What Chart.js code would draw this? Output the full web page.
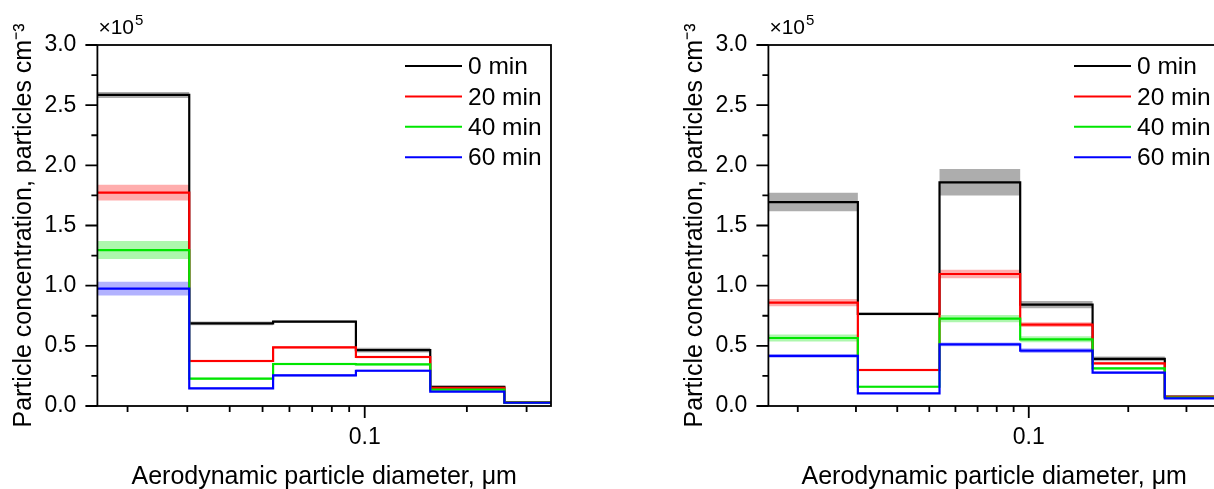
<!DOCTYPE html>
<html>
<head>
<meta charset="utf-8">
<script src="https://cdn.jsdelivr.net/npm/chart.js@4.4.1/dist/chart.umd.min.js"></script>
<style>
  html, body { margin: 0; padding: 0; background: #fff; overflow: hidden; }
  body { width: 1214px; height: 489px; position: relative; }
  canvas { position: absolute; top: 0; }
  #chartA { left: 0; }
  #chartB { left: 671px; }
</style>
</head>
<body>
<canvas id="chartA" width="607" height="489"></canvas>
<canvas id="chartB" width="605" height="489"></canvas>
<script>
// bin edges in um (the last one runs past the end of the axis)
var binEdges = [0.0163, 0.0304, 0.0537, 0.0942, 0.156, 0.258, 0.40];
var seriesLabels = ['0 min', '20 min', '40 min', '60 min'];
var xTicks = [0.02, 0.03, 0.04, 0.05, 0.06, 0.07, 0.08, 0.09, 0.1, 0.2, 0.3];
var yTicks = [0, 0.25, 0.5, 0.75, 1, 1.25, 1.5, 1.75, 2, 2.25, 2.5, 2.75, 3];

// left panel, x10^5 particles cm-3, per bin
var a0  = [2.585, 0.687, 0.701, 0.465, 0.160, 0.030];
var a20 = [1.773, 0.374, 0.488, 0.407, 0.150, 0.030];
var a40 = [1.296, 0.227, 0.349, 0.346, 0.136, 0.028];
var a60 = [0.975, 0.147, 0.255, 0.293, 0.119, 0.027];
var a0err  = [0.025, 0.015, 0.010, 0.020, 0.008, 0.004];
var a20err = [0.066, 0.010, 0.010, 0.010, 0.005, 0.003];
var a40err = [0.075, 0.008, 0.010, 0.010, 0.005, 0.003];
var a60err = [0.057, 0.008, 0.010, 0.010, 0.005, 0.003];

// right panel
var b0  = [1.695, 0.765, 1.859, 0.842, 0.391, 0.078];
var b20 = [0.859, 0.299, 1.097, 0.676, 0.355, 0.077];
var b40 = [0.565, 0.160, 0.726, 0.554, 0.313, 0.070];
var b60 = [0.416, 0.105, 0.512, 0.460, 0.277, 0.064];
var b0err  = [0.077, 0.010, 0.110, 0.030, 0.020, 0.005];
var b20err = [0.030, 0.010, 0.035, 0.020, 0.010, 0.004];
var b40err = [0.030, 0.008, 0.030, 0.025, 0.010, 0.004];
var b60err = [0.015, 0.005, 0.015, 0.020, 0.010, 0.003];

var lineColors = ['#000000', '#ff0000', '#00e600', '#0000ff'];
var bandColors = ['rgba(0,0,0,0.32)', 'rgba(255,0,0,0.32)', 'rgba(0,230,0,0.32)', 'rgba(0,0,255,0.30)'];
var FONT = "'Liberation Sans', Arial, sans-serif";

function steps(vals, shift) {
  var pts = [];
  for (var i = 0; i < vals.length; i++) {
    pts.push({x: binEdges[i], y: vals[i] + shift[i]});
  }
  pts.push({x: binEdges[vals.length], y: vals[vals.length - 1] + shift[vals.length - 1]});
  return pts;
}

var frame = {
  id: 'frame',
  afterDraw: function(chart) {
    var ctx = chart.ctx, a = chart.chartArea;
    var xs = chart.scales.x, ys = chart.scales.y;
    ctx.save();
    ctx.strokeStyle = '#000';
    ctx.lineWidth = 1.8;
    ctx.strokeRect(a.left, a.top, a.right - a.left, a.bottom - a.top);
    ctx.beginPath();
    ys.ticks.forEach(function(t) {
      var y = ys.getPixelForValue(t.value);
      var len = Math.round(t.value * 4) % 2 === 0 ? 12 : 6;
      ctx.moveTo(a.left - len, y);
      ctx.lineTo(a.left, y);
    });
    xs.ticks.forEach(function(t) {
      var x = xs.getPixelForValue(t.value);
      var len = t.major ? 12 : 6;
      ctx.moveTo(x, a.bottom);
      ctx.lineTo(x, a.bottom + len);
    });
    ctx.stroke();

    // x10^5 multiplier
    ctx.fillStyle = '#000';
    ctx.textBaseline = 'alphabetic';
    ctx.font = '21px ' + FONT;
    ctx.fillText('\u00d710', a.left + 1, a.top - 11);
    var w = ctx.measureText('\u00d710').width;
    ctx.font = '15px ' + FONT;
    ctx.fillText('5', a.left + 2 + w, a.top - 20);

    // legend
    ctx.font = '24.5px ' + FONT;
    ctx.textBaseline = 'middle';
    ctx.lineWidth = 2;
    var n = 0;
    chart.data.datasets.forEach(function(ds) {
      if (!ds.legendText) return;
      var y = a.top + 21 + n * 30.4;
      ctx.strokeStyle = ds.borderColor;
      ctx.beginPath();
      ctx.moveTo(a.right - 146, y);
      ctx.lineTo(a.right - 89, y);
      ctx.stroke();
      ctx.fillText(ds.legendText, a.right - 83, y + 1.5);
      n++;
    });
    ctx.restore();
  }
};

function makeChart(id, series, errors, xMax) {
  var datasets = [];
  var zero = [0, 0, 0, 0, 0, 0];
  series.forEach(function(vals, s) {
    var neg = errors[s].map(function(e) { return -e; });
    datasets.push({
      data: steps(vals, errors[s]), stepped: 'before', borderColor: 'rgba(0,0,0,0)',
      borderWidth: 0, pointRadius: 0, fill: false, order: 10
    });
    datasets.push({
      data: steps(vals, neg), stepped: 'before', borderColor: 'rgba(0,0,0,0)',
      borderWidth: 0, pointRadius: 0, fill: '-1', backgroundColor: bandColors[s], order: 10
    });
  });
  series.forEach(function(vals, s) {
    datasets.push({
      data: steps(vals, zero), stepped: 'before', borderColor: lineColors[s],
      borderWidth: 2.2, pointRadius: 0, fill: false, order: 4 - s, legendText: seriesLabels[s]
    });
  });

  return new Chart(document.getElementById(id), {
    type: 'line',
    data: {datasets: datasets},
    options: {
      responsive: false,
      animation: false,
      events: [],
      layout: {padding: {top: 45, right: 56, left: 0, bottom: 0}},
      plugins: {
        legend: {display: false},
        tooltip: {enabled: false},
        filler: {drawTime: 'beforeDatasetsDraw'}
      },
      scales: {
        x: {
          type: 'logarithmic',
          min: 0.0163,
          max: xMax,
          afterBuildTicks: function(scale) {
            scale.ticks = xTicks.map(function(v) { return {value: v, major: v === 0.1}; });
          },
          afterFit: function(scale) { scale.height = 83; },
          grid: {display: false, drawTicks: true, tickLength: 12},
          border: {display: false},
          ticks: {
            autoSkip: false, maxRotation: 0, padding: 6, color: '#000',
            font: {family: FONT, size: 23},
            callback: function(v) { return v === 0.1 ? '0.1' : ''; }
          },
          title: {
            display: true, text: 'Aerodynamic particle diameter, \u03bcm', color: '#000',
            font: {family: FONT, size: 25, lineHeight: 0.95}, padding: {top: 0, bottom: 0}
          }
        },
        y: {
          min: 0,
          max: 3,
          afterBuildTicks: function(scale) {
            scale.ticks = yTicks.map(function(v) { return {value: v}; });
          },
          afterFit: function(scale) { scale.width = 97.4; },
          grid: {display: false, drawTicks: true, tickLength: 12},
          border: {display: false},
          ticks: {
            autoSkip: false, padding: 9, color: '#000',
            font: {family: FONT, size: 23},
            callback: function(v) { return Math.round(v * 4) % 2 === 0 ? v.toFixed(1) : ''; }
          },
          title: {
            display: true, text: 'Particle concentration, particles cm\u207b\u00b3', color: '#000',
            font: {family: FONT, size: 25, lineHeight: 1.2}, padding: {top: 9, bottom: 0}
          }
        }
      }
    },
    plugins: [frame]
  });
}

makeChart('chartA', [a0, a20, a40, a60], [a0err, a20err, a40err, a60err], 0.354);
makeChart('chartB', [b0, b20, b40, b60], [b0err, b20err, b40err, b60err], 0.379);
</script>
</body>
</html>
